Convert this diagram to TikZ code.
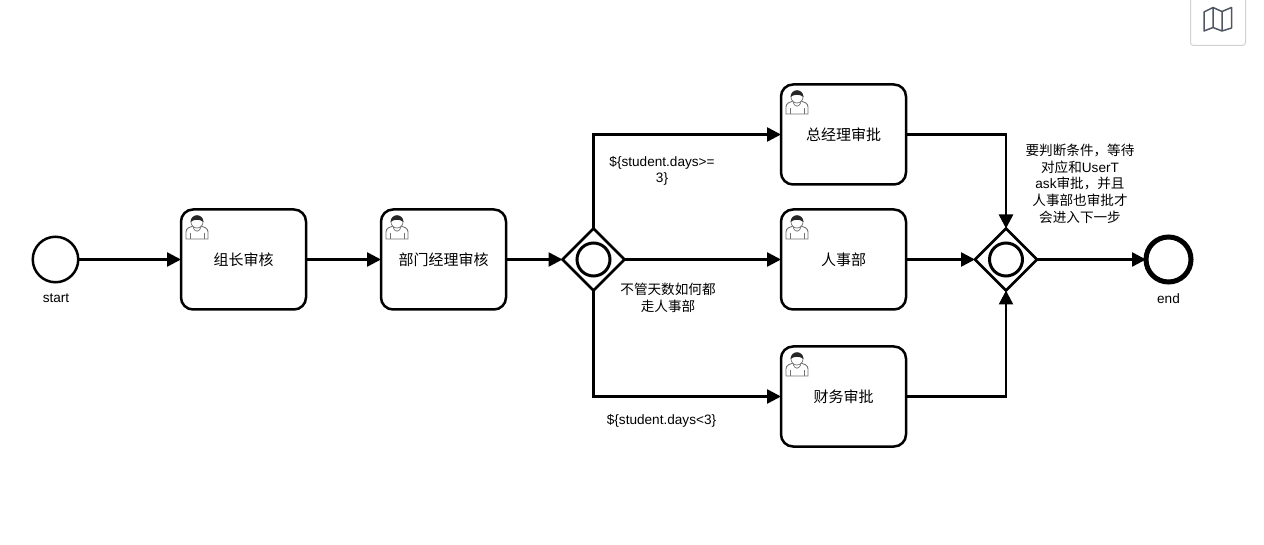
\documentclass[tikz,border=0pt]{standalone}
\usepackage{fontspec}
\setmainfont{Liberation Sans}
\newfontfamily\cjk{Noto Sans CJK SC}
\usetikzlibrary{shapes.geometric,arrows.meta}
\definecolor{mapgray}{HTML}{4F5763}

\tikzset{
  flow/.style={line width=2.5pt,-{Triangle[length=14pt,width=14pt]}},
  event/.style={circle,draw,line width=2.5pt,outer sep=0pt,minimum size=45.5pt,inner sep=0pt},
  endevent/.style={circle,draw,line width=5pt,outer sep=0pt,minimum size=45pt,inner sep=0pt},
  usertask/.style={rectangle,draw,line width=2.5pt,outer sep=0pt,rounded corners=12pt,minimum width=125pt,minimum height=100pt,
    font=\fontsize{15}{18}\cjk},
  gateway/.style={diamond,draw,line width=2.5pt,outer sep=0pt,aspect=1,minimum size=62pt,inner sep=0pt},
  gatering/.style={circle,draw,line width=3pt,minimum size=33pt,inner sep=0pt},
  caption/.style={align=center,inner sep=0pt,font=\fontsize{13.6}{16.7}\selectfont},
  usericon/.pic={
    \draw[line width=.9pt,draw=black!55,fill=white]
      (-11,11) -- (-11,4) .. controls (-11,0) and (-7,-1) .. (-4,-2) -- (4,-2)
      .. controls (7,-1) and (11,0) .. (11,4) -- (11,11) -- cycle;
    \draw[line width=.7pt,draw=black!55] (-7,11) -- (-7,5) (7,11) -- (7,5);
    \draw[line width=.7pt,draw=black!55,fill=white] (-4,-2) .. controls (-3,5) and (3,5) .. (4,-2);
    \fill[white] (0,-6) circle (6);
    \draw[line width=.7pt,draw=black!55] (0,-6) circle (6);
    \fill[black!85] (-6.5,-6) .. controls (-6,-15) and (6,-15) .. (6.5,-6)
      .. controls (3,-9) and (-3,-9) .. (-6.5,-6);
  }
}

\begin{document}
\begin{tikzpicture}[x=1pt,y=-1pt]
\useasboundingbox (0,0) rectangle (1264,545);

% events
\node[event] (start) at (55.5,259.5) {};
\node[caption] (startlabel) at (56,298.5) {start};
\node[endevent] (end) at (1168.5,259.5) {};
\node[caption] (endlabel) at (1168.5,298.5) {end};

% tasks
\node[usertask] (zuzhang) at (243.5,259.5) {组长审核};
\node[usertask] (jingli) at (443.5,259.5) {部门经理审核};
\node[usertask] (zongjingli) at (843.5,134.5) {总经理审批};
\node[usertask] (renshi) at (843.5,259.5) {人事部};
\node[usertask] (caiwu) at (843.5,396.5) {财务审批};

\path (197,228) pic {usericon};
\path (397,228) pic {usericon};
\path (797,103) pic {usericon};
\path (797,228) pic {usericon};
\path (797,365) pic {usericon};

% gateways
\node[gateway] (fork) at (593.5,259.5) {};
\node[gatering] (forkring) at (593.5,259.5) {};
\node[gateway] (join) at (1006,259.5) {};
\node[gatering] (joinring) at (1006,259.5) {};

% flows
\draw[flow] (start) -- (zuzhang);
\draw[flow] (zuzhang) -- (jingli);
\draw[flow] (jingli) -- (fork);
\draw[flow] (fork.north) |- (zongjingli.west);
\draw[flow] (fork) -- (renshi);
\draw[flow] (fork.south) |- (caiwu.west);
\draw[flow] (zongjingli.east) -| (join.north);
\draw[flow] (renshi) -- (join);
\draw[flow] (caiwu.east) -| (join.south);
\draw[flow] (join) -- (end);

% flow texts
\node[caption] (daysge) at (662,171) {\$\{student.days>=\\3\}};
\node[caption] (always) at (668,298) {\cjk 不管天数如何都\\\cjk 走人事部};
\node[caption] (dayslt) at (661.5,421) {\$\{student.days<3\}};
\node[caption] (waitnote) at (1080,183.5) {\cjk 要判断条件，等待\\{\cjk 对应和}UserT\\ask{\cjk 审批，并且}\\\cjk 人事部也审批才\\\cjk 会进入下一步};

% map button
\draw[draw=black!18,line width=1pt,rounded corners=3pt] (1190.5,-4) -- (1190.5,45.5) -- (1245.5,45.5) -- (1245.5,-4);
\draw[draw=mapgray,line width=1.5pt,line join=round] (1204,12) -- (1213,7.5) -- (1222,11.5) -- (1231.5,7.5)
  -- (1231.5,28) -- (1222,31) -- (1213,27.5) -- (1204,31) -- cycle (1213,7.5) -- (1213,27.5) (1222,11.5) -- (1222,31);
\end{tikzpicture}
\end{document}
